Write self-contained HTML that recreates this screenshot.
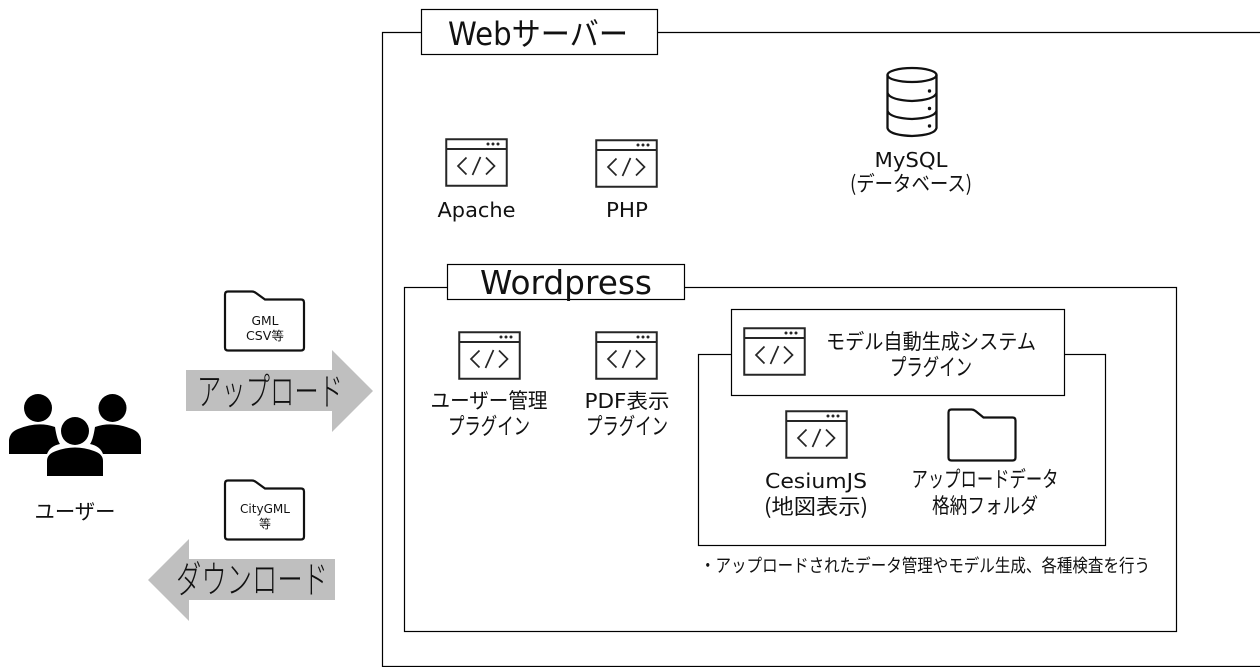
<!DOCTYPE html>
<html lang="ja"><head><meta charset="utf-8"><style>
html,body{margin:0;padding:0;background:#fff;width:1260px;height:667px;overflow:hidden}
svg{display:block}
text{font-family:"DejaVu Sans","Noto Sans CJK JP",sans-serif;font-weight:400;fill:#111;text-anchor:middle}
.j{font-family:"Noto Sans CJK JP","Liberation Sans",sans-serif;font-weight:400}
.l{font-weight:300}
</style></head><body>
<svg width="1260" height="667" viewBox="0 0 1260 667" xmlns="http://www.w3.org/2000/svg">
<defs>
<g id="w" fill="none" stroke="#262626">
<rect x="0.75" y="0.75" width="60.5" height="46.5" stroke-width="2"/>
<path d="M0.75 10.5H61.25" stroke-width="2"/>
<path d="M21 19L12.500 27.500L21 36M40.500 19L49 27.500L40.500 36M35 18.500L27 36.500" stroke-width="1.700"/>
<g fill="#262626" stroke="none"><circle cx="42.500" cy="5.500" r="1.500"/><circle cx="47.500" cy="5.500" r="1.500"/><circle cx="52.500" cy="5.500" r="1.500"/></g>
</g>
<path id="f" d="M3 0H27Q29 0 31 1.500L40 8H76Q79 8 79 11V56Q79 59 76 59H3Q0 59 0 56V3Q0 0 3 0Z" fill="#fff" stroke="#111" stroke-width="2.200"/>
</defs>

<!-- Web server -->
<path d="M421 32.500H382.500V666.500H1260M657 32.500H1260" fill="none" stroke="#000" stroke-width="1.200"/>
<rect x="421.500" y="9.500" width="236" height="45" fill="#fff" stroke="#000" stroke-width="1.200"/>
<text x="538" y="45" font-size="32" textLength="180" lengthAdjust="spacingAndGlyphs">Webサーバー</text>

<!-- DB -->
<g fill="none" stroke="#111" stroke-width="2.300">
<ellipse cx="912" cy="75" rx="24.500" ry="7"/>
<path d="M887.500 75V128Q889 135 912 136Q935 135 936.500 128V75"/>
<path d="M887.500 93Q890 100 912 101Q934 100 936.500 93M887.500 111Q890 118 912 119Q934 118 936.500 111"/>
</g>
<g fill="#111"><circle cx="929.500" cy="91" r="1.700"/><circle cx="929.500" cy="108.500" r="1.700"/><circle cx="929.500" cy="126" r="1.700"/></g>
<text x="911" y="167" font-size="20" textLength="73" lengthAdjust="spacingAndGlyphs">MySQL</text>
<text x="911" y="191" font-size="21" class="j" textLength="122" lengthAdjust="spacingAndGlyphs">(データベース)</text>

<use href="#w" x="445.500" y="138.500"/>
<text x="476.500" y="217" font-size="20" textLength="78" lengthAdjust="spacingAndGlyphs">Apache</text>
<use href="#w" x="595.500" y="139.500"/>
<text x="627" y="217" font-size="20" textLength="42" lengthAdjust="spacingAndGlyphs">PHP</text>

<!-- Wordpress -->
<rect x="404.500" y="287.500" width="772" height="344" fill="none" stroke="#000" stroke-width="1.200"/>
<rect x="447.500" y="264.500" width="237" height="35" fill="#fff" stroke="#000" stroke-width="1.200"/>
<text x="566" y="294" font-size="33" textLength="172" lengthAdjust="spacingAndGlyphs">Wordpress</text>

<use href="#w" x="458.500" y="331.500"/>
<text x="489" y="408" font-size="21" class="j" textLength="117" lengthAdjust="spacingAndGlyphs">ユーザー管理</text>
<text x="489" y="434" font-size="23" class="j" textLength="82" lengthAdjust="spacingAndGlyphs">プラグイン</text>
<use href="#w" x="595.500" y="331.500"/>
<text x="627" y="408" font-size="20" textLength="85" lengthAdjust="spacingAndGlyphs">PDF表示</text>
<text x="627" y="434" font-size="23" class="j" textLength="82" lengthAdjust="spacingAndGlyphs">プラグイン</text>

<!-- Plugin -->
<rect x="698.500" y="354.500" width="407" height="191" fill="none" stroke="#000" stroke-width="1.200"/>
<rect x="731.500" y="309.500" width="333" height="86" fill="#fff" stroke="#000" stroke-width="1.200"/>
<use href="#w" x="743.500" y="327.500"/>
<text x="931" y="349" font-size="21" class="j" textLength="210" lengthAdjust="spacingAndGlyphs">モデル自動生成システム</text>
<text x="931" y="375" font-size="23" class="j" textLength="82" lengthAdjust="spacingAndGlyphs">プラグイン</text>

<use href="#w" x="785.500" y="410.500"/>
<text x="816" y="488" font-size="20" textLength="102" lengthAdjust="spacingAndGlyphs">CesiumJS</text>
<text x="816" y="514" font-size="21" class="j" textLength="104" lengthAdjust="spacingAndGlyphs">(地図表示)</text>

<path d="M3 0H23Q25 0 27 1.500L35 8H64Q67 8 67 11V48Q67 51 64 51H3Q0 51 0 48V3Q0 0 3 0Z" transform="translate(948.500 409.500)" fill="#fff" stroke="#111" stroke-width="2.200"/>
<text x="985" y="487" font-size="22" class="j" textLength="147" lengthAdjust="spacingAndGlyphs">アップロードデータ</text>
<text x="985" y="513" font-size="21" class="j" textLength="106" lengthAdjust="spacingAndGlyphs">格納フォルダ</text>

<text x="925" y="572" font-size="18" class="j" textLength="450" lengthAdjust="spacingAndGlyphs">・アップロードされたデータ管理やモデル生成、各種検査を行う</text>

<!-- Users -->
<g fill="#000">
<circle cx="38" cy="408" r="14"/><circle cx="112.500" cy="408" r="14"/>
<path d="M9 454V440Q10 432 18 429Q38 421 55 427Q57 440 60 444Q50 446 47 454Z"/>
<path d="M141 454V440Q140 432 132 429Q112 421 95 427Q93 440 90 444Q100 446 103 454Z"/>
<circle cx="75" cy="431" r="14"/>
<path d="M47 476V461Q47 454 56 451Q75 444 94 451Q103 454 103 461V476Z"/>
</g>
<text x="75" y="519" font-size="21" class="j" textLength="81" lengthAdjust="spacingAndGlyphs">ユーザー</text>

<!-- Upload -->
<path d="M186 370H332V350L373 391L332 432V411H186Z" fill="#bfbfbf"/>
<text x="270" y="405" font-size="38" class="j l" textLength="146" lengthAdjust="spacingAndGlyphs">アップロード</text>
<use href="#f" x="225" y="291.500"/>
<text x="265" y="325" font-size="12" textLength="27" lengthAdjust="spacingAndGlyphs">GML</text>
<text x="265" y="340" font-size="12" textLength="38" lengthAdjust="spacingAndGlyphs">CSV等</text>

<!-- Download -->
<path d="M335 559H189V539L148 580L189 621V600H335Z" fill="#bfbfbf"/>
<text x="252" y="593" font-size="38" class="j l" textLength="152" lengthAdjust="spacingAndGlyphs">ダウンロード</text>
<use href="#f" x="225" y="480.500"/>
<text x="265" y="513" font-size="12" textLength="50" lengthAdjust="spacingAndGlyphs">CityGML</text>
<text x="265" y="528" font-size="12" class="j">等</text>
</svg>
</body></html>
